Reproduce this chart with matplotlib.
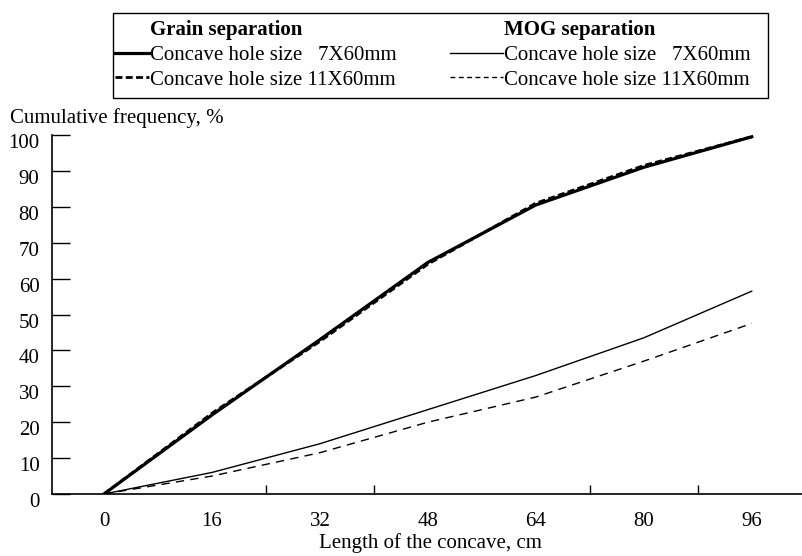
import matplotlib

matplotlib.use("Agg")
import matplotlib.pyplot as plt
from matplotlib.lines import Line2D
from matplotlib.patches import Rectangle
from matplotlib.transforms import offset_copy

# Length of the concave (cm) and cumulative separation (%)
length_cm = [0, 16, 32, 48, 64, 80, 96]
grain_7x60 = [0, 22, 43, 64.5, 80.5, 91, 99.5]
grain_11x60 = [0, 22.5, 42.5, 64, 81, 91.5, 99.5]
mog_7x60 = [0, 6, 14, 23.5, 33, 43.5, 56.5]
mog_11x60 = [0, 5, 11.5, 20, 27, 37, 47.5]

x_ticks = [0, 16, 32, 48, 64, 80, 96]
x_minor = [24, 40, 72, 88]
y_ticks = list(range(0, 101, 10))

W, H = 803, 556

plt.rcParams["font.family"] = ["Liberation Serif", "DejaVu Serif"]
plt.rcParams["font.size"] = 15

fig = plt.figure(figsize=(W / 100, H / 100), dpi=100)
ax = fig.add_axes([52 / W, 62 / H, 1 - 52 / W, 359 / H])

GRAIN_SOLID = dict(color="black", lw=2.3)
GRAIN_DASH = dict(color="black", lw=2.0, ls=(0, (2.5, 1.2)))
MOG_SOLID = dict(color="black", lw=1.0)
MOG_DASH = dict(color="black", lw=1.0, ls=(0, (6, 4.5)))

ax.plot(length_cm, grain_7x60, solid_joinstyle="round", **GRAIN_SOLID)
ax.plot(length_cm, grain_11x60, **GRAIN_DASH)
ax.plot(length_cm, mog_7x60, **MOG_SOLID)
ax.plot(length_cm, mog_11x60, **MOG_DASH)

ax.set_xlim(-7.7, 103.6)
ax.set_ylim(0, 100)
ax.set_xticks(x_ticks)
ax.set_xticks(x_minor, minor=True)
ax.set_yticks(y_ticks)
ax.tick_params(axis="x", which="major", length=0, pad=13)
ax.tick_params(axis="x", which="minor", direction="in", length=6.5, width=1)
ax.tick_params(axis="y", direction="in", length=13, width=1, pad=9)
# the y labels sit a little below their ticks in the original
for lab in ax.get_yticklabels():
    lab.set_transform(offset_copy(lab.get_transform(), fig=fig, x=0, y=-6,
                                  units="dots"))
for side in ("top", "right"):
    ax.spines[side].set_visible(False)
for side in ("left", "bottom"):
    ax.spines[side].set_linewidth(1.2)

fig.text(10 / W, 1 - 118 / H, "Cumulative frequency, %", ha="left", va="center")
fig.text(430 / W, 1 - 543 / H, "Length of the concave, cm", ha="center", va="center")

# legend frame around both columns
fig.patches.append(Rectangle((113 / W, 1 - 98 / H), 655 / W, 85 / H,
                             transform=fig.transFigure, fill=False,
                             edgecolor="black", lw=1.0))

blank = Line2D([], [], color="none")
common = dict(loc="upper left", frameon=False, handletextpad=0.05,
              labelspacing=0.25, borderpad=0, borderaxespad=0)

leg_g = fig.legend(
    [blank, Line2D([], [], **GRAIN_SOLID), Line2D([], [], **GRAIN_DASH)],
    ["Grain separation", "Concave hole size   7X60mm", "Concave hole size 11X60mm"],
    bbox_to_anchor=(115 / W, 1 - 20 / H), handlelength=1.65, **common)
leg_m = fig.legend(
    [blank, Line2D([], [], **MOG_SOLID),
     Line2D([], [], color="black", lw=1.0, ls=(0, (3.5, 2.5)))],
    ["MOG separation", "Concave hole size   7X60mm", "Concave hole size 11X60mm"],
    bbox_to_anchor=(450 / W, 1 - 20 / H), handlelength=2.55, **common)
for leg in (leg_g, leg_m):
    leg.get_texts()[0].set_fontweight("bold")

fig.savefig("out.png", dpi=100)
